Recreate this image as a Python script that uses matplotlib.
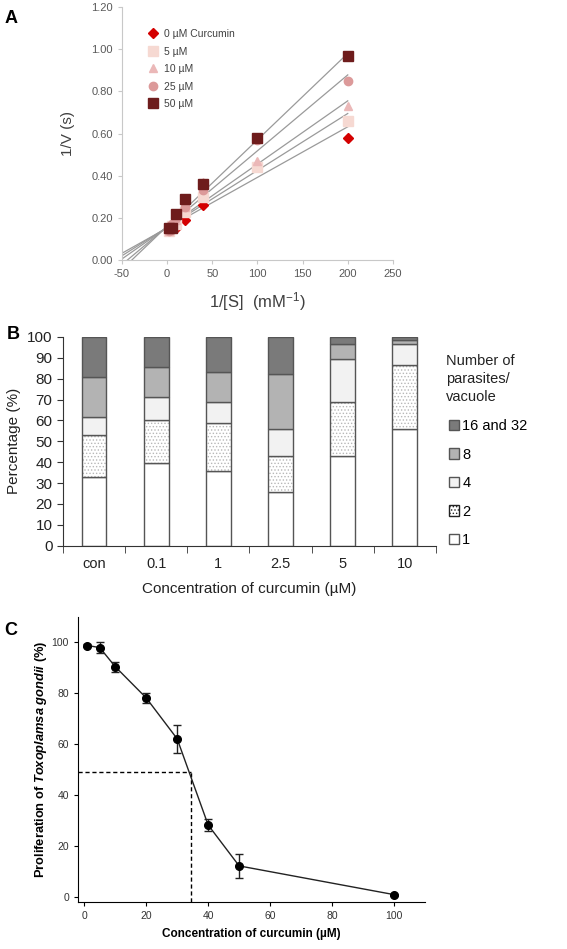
import numpy as np
import matplotlib
matplotlib.use("Agg")
import matplotlib.pyplot as plt
from matplotlib.patches import Patch

plt.rcParams['font.family'] = 'Liberation Sans'
plt.rcParams['axes.unicode_minus'] = False
plt.rcParams['mathtext.fontset'] = 'custom'
plt.rcParams['mathtext.rm'] = 'Liberation Sans'
plt.rcParams['mathtext.it'] = 'Liberation Sans:italic'
plt.rcParams['mathtext.bf'] = 'Liberation Sans:bold'
plt.rcParams['mathtext.bfit'] = 'Liberation Sans:italic:bold'
plt.rcParams['hatch.linewidth'] = 0.6

# --------------------
# Panel A data (Lineweaver-Burk)
# --------------------
inv_s = [2.5, 5, 10, 20, 40, 100, 200]
lb_labels = ['0 µM Curcumin', '5 µM', '10 µM', '25 µM', '50 µM']
inv_v_0 = [0.14, 0.15, 0.15, 0.19, 0.26, 0.44, 0.58]
inv_v_5 = [0.14, 0.16, 0.17, 0.23, 0.30, 0.44, 0.66]
inv_v_10 = [0.14, 0.17, 0.19, 0.25, 0.37, 0.47, 0.73]
inv_v_25 = [0.14, 0.17, 0.20, 0.25, 0.33, 0.57, 0.85]
inv_v_50 = [0.15, 0.15, 0.22, 0.29, 0.36, 0.58, 0.97]
fit_slope = [0.0024, 0.0027, 0.0030, 0.0036, 0.0041]
fit_icpt = [0.152, 0.155, 0.155, 0.158, 0.160]

# --------------------
# Panel B data (stacked %)
# --------------------
conc_b = ['con', '0.1', '1', '2.5', '5', '10']
seg_names = ['1', '2', '4', '8', '16 and 32']
p1 = [33.0, 39.7, 35.9, 25.8, 43.1, 56.1]
p2 = [20.0, 20.4, 23.0, 17.3, 25.5, 30.3]
p4 = [8.7, 11.2, 10.0, 13.0, 21.0, 10.4]
p8 = [19.2, 14.3, 14.4, 25.9, 7.2, 1.6]
p16 = [19.1, 14.4, 16.7, 18.0, 3.2, 1.6]

# --------------------
# Panel C data (dose response)
# --------------------
conc_c = [1, 5, 10, 20, 30, 40, 50, 100]
prolif = [98.8, 98.0, 90.5, 78.2, 62.1, 28.2, 12.1, 0.8]
prolif_err = [0.4, 2.1, 2.0, 2.1, 5.5, 2.5, 4.8, 0.4]
ic50 = 34.4
half = 49.1

fig = plt.figure(figsize=(5.67, 9.49), dpi=100)

# ===================== A =====================
axA = fig.add_axes([0.215, 0.726, 0.478, 0.2666])
series = [inv_v_0, inv_v_5, inv_v_10, inv_v_25, inv_v_50]
mk = ['D', 's', '^', 'o', 's']
ms = [5, 7, 6, 6, 7]
cols = ['#d40000', '#f6d9d2', '#ebb8b8', '#dc9a9a', '#6e1c1c']
xs = np.array([-50, 200])
for sl, ic in zip(fit_slope, fit_icpt):
    axA.plot(xs, ic + sl * xs, color='#9a9a9a', lw=0.9, zorder=1)
for yv, m, s, c, lab in zip(series, mk, ms, cols, lb_labels):
    axA.plot(inv_s, yv, ls='none', marker=m, ms=s, color=c, label=lab, zorder=3)
axA.set_xlim(-50, 250)
axA.set_ylim(0, 1.2)
axA.set_xticks(range(-50, 251, 50))
axA.set_yticks(np.arange(0, 1.21, 0.2))
axA.set_yticklabels([f'{v:.2f}' for v in np.arange(0, 1.21, 0.2)])
for sp in ['top', 'right']:
    axA.spines[sp].set_visible(False)
for sp in ['left', 'bottom']:
    axA.spines[sp].set_color('#c8c8c8')
axA.tick_params(colors='#c8c8c8', labelcolor='#595959', labelsize=8, length=3)
axA.set_ylabel('1/V (s)', fontsize=11, color='#404040', labelpad=12)
axA.set_xlabel('1/[S]  (mM$^{-1}$)', fontsize=12, color='#404040', labelpad=8)
axA.legend(loc='upper left', bbox_to_anchor=(0.06, 0.95), frameon=False, fontsize=7.5,
           handletextpad=0.6, labelspacing=0.72, handlelength=1.0, labelcolor='#404040')
fig.text(0.008, 0.981, 'A', fontsize=13, fontweight='bold', va='center')

# ===================== B =====================
axB = fig.add_axes([0.111, 0.425, 0.658, 0.220])
xb = np.arange(len(conc_b))
w = 0.4
edge = '#555555'
bottoms = np.zeros(len(conc_b))
axB.bar(xb, p1, w, bottom=bottoms, color='white', edgecolor=edge, lw=1.0)
bottoms += p1
axB.bar(xb, p2, w, bottom=bottoms, color='white', edgecolor='#b8b8b8', lw=0, hatch='.....')
axB.bar(xb, p2, w, bottom=bottoms, fill=False, edgecolor=edge, lw=1.0)
bottoms += p2
axB.bar(xb, p4, w, bottom=bottoms, color='#f2f2f2', edgecolor=edge, lw=1.0)
bottoms += p4
axB.bar(xb, p8, w, bottom=bottoms, color='#b3b3b3', edgecolor=edge, lw=1.0)
bottoms += p8
axB.bar(xb, p16, w, bottom=bottoms, color='#7a7a7a', edgecolor=edge, lw=1.0)
axB.set_xlim(-0.5, len(conc_b) - 0.5)
axB.set_ylim(0, 100)
axB.set_yticks(range(0, 101, 10))
axB.set_xticks(xb)
axB.set_xticklabels(conc_b)
axB.set_xticks(np.arange(-0.5, len(conc_b), 1), minor=True)
axB.tick_params(axis='x', which='major', length=0, labelsize=10.5, pad=8, labelcolor='#222222')
axB.tick_params(axis='x', which='minor', length=5, color='#333333')
axB.tick_params(axis='y', labelsize=11, length=4, color='#333333', labelcolor='#222222')
for sp in ['top', 'right']:
    axB.spines[sp].set_visible(False)
for sp in ['left', 'bottom']:
    axB.spines[sp].set_color('#333333')
axB.set_ylabel('Percentage (%)', fontsize=11, color='#222222', labelpad=4)
axB.set_xlabel('Concentration of curcumin (µM)', fontsize=11, color='#222222', labelpad=8)
handles = [Patch(facecolor='#7a7a7a', edgecolor=edge),
           Patch(facecolor='#b3b3b3', edgecolor=edge),
           Patch(facecolor='#f2f2f2', edgecolor=edge),
           Patch(facecolor='white', edgecolor='#222222', hatch='.....'),
           Patch(facecolor='white', edgecolor=edge)]
legB = axB.legend(handles, seg_names[::-1], loc='upper left', bbox_to_anchor=(1.0, 0.67),
                  frameon=False, fontsize=10.5, handlelength=0.7, handleheight=0.7,
                  handletextpad=0.2, labelspacing=1.0)
fig.text(0.786, 0.601, 'Number of\nparasites/\nvacuole', fontsize=10.5, color='#222222',
         va='center', ha='left', linespacing=1.35)
fig.text(0.012, 0.647, 'B', fontsize=13, fontweight='bold', va='center')

# ===================== C =====================
axC = fig.add_axes([0.1376, 0.0498, 0.612, 0.300])
axC.plot([-2, ic50], [half, half], color='black', ls='--', lw=1.0, dashes=(3, 2))
axC.plot([ic50, ic50], [-2, half], color='black', ls='--', lw=1.0, dashes=(3, 2))
axC.errorbar(conc_c, prolif, yerr=prolif_err, color='#222222', marker='o', ms=5.5,
             lw=1.0, capsize=3, elinewidth=1.0, capthick=1.0, mfc='black', mec='black')
axC.set_xlim(-2, 110)
axC.set_ylim(-2, 110)
axC.set_xticks(range(0, 101, 20))
axC.set_yticks(range(0, 101, 20))
for sp in ['top', 'right']:
    axC.spines[sp].set_visible(False)
axC.tick_params(labelsize=7.5, labelcolor='#333333', length=3)
axC.set_xlabel('Concentration of curcumin (µM)', fontsize=8.5, fontweight='bold', labelpad=5)
axC.set_ylabel(r'Proliferation of $\mathbfit{Toxoplamsa\ gondii}$ (%)', fontsize=9.3,
               fontweight='bold', labelpad=2)
fig.text(0.008, 0.336, 'C', fontsize=13, fontweight='bold', va='center')

fig.savefig('out.png', dpi=100)
